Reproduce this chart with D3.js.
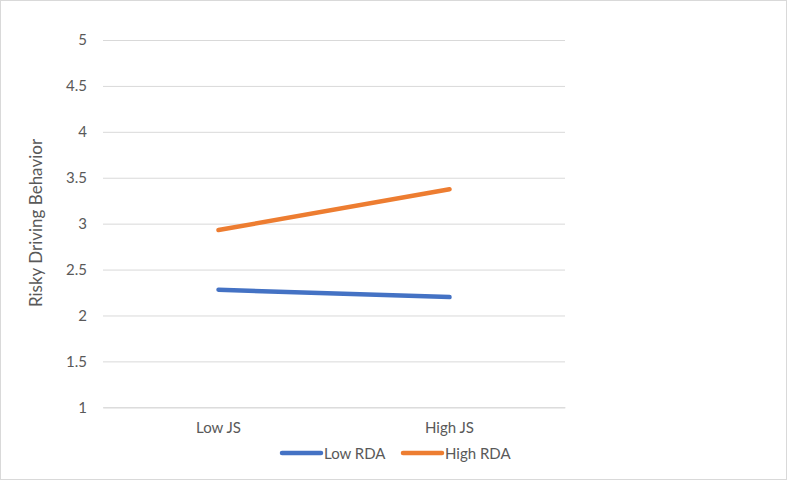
<!DOCTYPE html>
<html><head><meta charset="utf-8">
<script src="https://cdn.jsdelivr.net/npm/d3@7"></script>
<style>body{margin:0;background:#fff}svg{display:block}text{font-family:Lato,"Open Sans",sans-serif}</style>
</head><body>
<svg id="c" width="787" height="481"></svg>
<script>
const categories = ["Low JS", "High JS"];
const seriesNames = ["Low RDA", "High RDA"];
const lowRDA = [2.28, 2.20];
const highRDA = [2.93, 3.375];
const yTicks = [1, 1.5, 2, 2.5, 3, 3.5, 4, 4.5, 5];
const colors = ["#4472C4", "#ED7D31"];
const yTitle = "Risky Driving Behavior";

const svg = d3.select("#c");
svg.append("rect").attr("x",0.5).attr("y",0.5).attr("width",786).attr("height",479)
  .attr("fill","#fff").attr("stroke","#d9d9d9");

const x = d3.scaleBand().domain(categories).range([103,565]);
const y = d3.scaleLinear().domain([1,5]).range([407.3,40]);

const yAxis = svg.append("g").attr("transform","translate(103,0)")
  .call(d3.axisLeft(y).tickValues(yTicks).tickSize(-462).tickPadding(16).tickFormat(d3.format("")));
yAxis.select(".domain").remove();
yAxis.selectAll("line").attr("stroke","#d9d9d9");
yAxis.selectAll("text").attr("fill","#595959").style("font-size","15px").style("font-family","Lato");

const xAxis = svg.append("g").attr("transform","translate(0,407.3)")
  .call(d3.axisBottom(x).tickSize(0).tickPadding(15));
xAxis.select(".domain").attr("stroke","#d9d9d9");
xAxis.selectAll("text").attr("fill","#595959").style("font-size","15px").style("font-family","Lato");

svg.append("text").attr("transform","translate(42,223) rotate(-90)")
  .attr("text-anchor","middle").attr("fill","#595959").style("font-size","17px").text(yTitle);

const line = d3.line().x((d,i)=>x(categories[i])+x.bandwidth()/2).y(d=>y(d));
[lowRDA, highRDA].forEach((s,k)=>{
  svg.append("path").datum(s).attr("d",line).attr("fill","none")
    .attr("stroke",colors[k]).attr("stroke-width",4.5).attr("stroke-linecap","round");
});

const legX = [282, 403];
seriesNames.forEach((n,k)=>{
  const g = svg.append("g").attr("transform",`translate(${legX[k]},453)`);
  g.append("line").attr("x1",0).attr("x2",39).attr("stroke",colors[k]).attr("stroke-width",4.5).attr("stroke-linecap","round");
  g.append("text").attr("x",42).attr("y",5.5).attr("fill","#595959").style("font-size","15px").text(n);
});
</script>
</body></html>
